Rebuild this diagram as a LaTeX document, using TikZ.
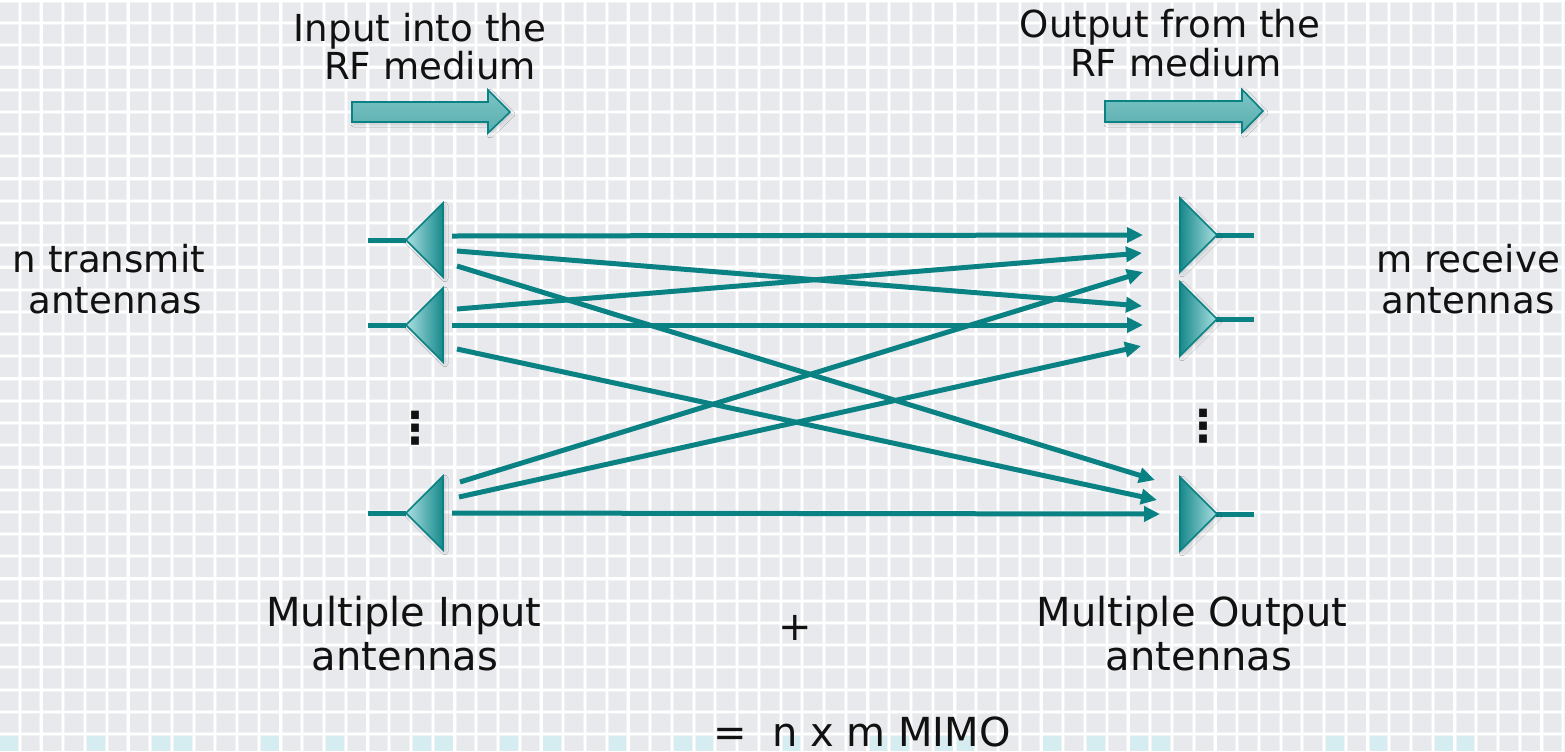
\documentclass[tikz,border=0pt]{standalone}
\usepackage{fontspec}
\setmainfont{DejaVu Sans}
\usetikzlibrary{arrows.meta,shadows.blur}

\definecolor{bggray}{HTML}{E8E9ED}
\definecolor{gridglow}{HTML}{F1F2F4}
\definecolor{tealline}{HTML}{0A8183}
\definecolor{tealdark}{HTML}{17898B}
\definecolor{teallight}{HTML}{ABE0E2}
\definecolor{arrowtop}{HTML}{7CC4C5}
\definecolor{arrowmid}{HTML}{A2D8D9}
\definecolor{arrowbot}{HTML}{5AAEAF}
\definecolor{cyancell}{HTML}{D5EDF1}
\definecolor{inkblack}{HTML}{111111}

\begin{document}
\begin{tikzpicture}[x=0.5pt,y=-0.5pt,
  gridglow/.style={draw=gridglow, line width=2pt},
  gridline/.style={draw=white, line width=1.1pt},
  link/.style={draw=tealline, line width=2.5pt, -{Triangle[length=8pt,width=7.5pt]}},
  stub/.style={draw=tealline, line width=2.5pt},
  softshadow/.style={blur shadow={shadow xshift=1pt, shadow yshift=-1pt,
      shadow blur radius=1.5pt, shadow opacity=15}},
  txantenna/.style={draw=tealline, line width=0.8pt, line join=miter,
      left color=teallight, right color=tealdark, softshadow},
  rxantenna/.style={draw=tealline, line width=0.8pt, line join=miter,
      left color=tealdark, right color=teallight, softshadow},
  blockarrow/.style={draw=tealline, line width=0.8pt, line join=miter,
      top color=arrowtop, middle color=arrowmid, bottom color=arrowbot, softshadow},
  lbl/.style={font=\fontsize{18.6}{22}\selectfont, text=inkblack, inner sep=0pt, anchor=base},
  biglbl/.style={lbl, font=\fontsize{20}{24}\selectfont},
  dotslbl/.style={lbl, anchor=center, font=\fontsize{22}{24}\selectfont\bfseries},
]
\useasboundingbox (0,0) rectangle (1565,751);

% ---- background: gray tiles with white joints, a few cyan tiles in the last row
\fill[bggray] (0,0) rectangle (1565,751);
\foreach \k in {0,4,7,8,12,15,19,20,23,25,28,31,32,36,40,41,43,44,48,50,52,53,61,63,66,67}
  \fill[cyancell] ({-2.04+\k*21.74},735) rectangle ({-2.04+(\k+1)*21.74},751);
\foreach \k in {0,...,71} \draw[gridglow] ({19.7+\k*21.74},0) -- ({19.7+\k*21.74},751);
\foreach \j in {-1,...,32} \draw[gridglow] (0,{23+\j*22.22}) -- (1565,{23+\j*22.22});
\foreach \k in {0,...,71} \draw[gridline] ({19.7+\k*21.74},0) -- ({19.7+\k*21.74},751);
\foreach \j in {-1,...,32} \draw[gridline] (0,{23+\j*22.22}) -- (1565,{23+\j*22.22});

% ---- block arrows marking the direction through the medium
\path[blockarrow] (352,102) -- (488,102) -- (488,90) -- (510,112) -- (488,133)
  -- (488,122) -- (352,122) -- cycle;
\path[blockarrow] (1105,101) -- (1242,101) -- (1242,89.5) -- (1263,111) -- (1242,132.5)
  -- (1242,122) -- (1105,122) -- cycle;

% ---- transmit antennas (left)
\foreach \y in {240,325,513} {
  \draw[stub] (368,\y) -- (406,\y);
  \path[txantenna] (443,\y-37) -- (406,\y) -- (443,\y+37) -- cycle;
}
% ---- receive antennas (right)
\foreach \y in {235,319,514} {
  \draw[stub] (1216,\y) -- (1254,\y);
  \path[rxantenna] (1180,\y-37) -- (1217,\y) -- (1180,\y+37) -- cycle;
}

% ---- connector end points
\coordinate (t1a) at (452,236);
\coordinate (t1b) at (457,251);
\coordinate (t1c) at (457,266);
\coordinate (t2a) at (457,309);
\coordinate (t2b) at (452,325);
\coordinate (t2c) at (457,349);
\coordinate (t3a) at (460,482);
\coordinate (t3b) at (459,497);
\coordinate (t3c) at (452,513);
\coordinate (r1a) at (1143,235);
\coordinate (r1b) at (1142,253);
\coordinate (r1c) at (1143,272);
\coordinate (r2a) at (1142,306);
\coordinate (r2b) at (1143,325);
\coordinate (r2c) at (1141,346);
\coordinate (r3a) at (1155,480);
\coordinate (r3b) at (1157,500);
\coordinate (r3c) at (1160,514);

% ---- every transmit antenna reaches every receive antenna
\draw[link] (t1a) -- (r1a);
\draw[link] (t1b) -- (r2a);
\draw[link] (t1c) -- (r3a);
\draw[link] (t2a) -- (r1b);
\draw[link] (t2b) -- (r2b);
\draw[link] (t2c) -- (r3b);
\draw[link] (t3a) -- (r1c);
\draw[link] (t3b) -- (r2c);
\draw[link] (t3c) -- (r3c);

% ---- vertical ellipses between antennas
\node[dotslbl] (dotsl) at (415,428) {⋮};
\node[dotslbl] (dotsr) at (1203,426) {⋮};

% ---- labels
\node[lbl] (inA) at (420,41) {Input into the};
\node[lbl] (inB) at (430,79) {RF medium};
\node[lbl] (outA) at (1170,37) {Output from the};
\node[lbl] (outB) at (1176,76) {RF medium};
\node[lbl] (ntxA) at (109,272) {n transmit};
\node[lbl] (ntxB) at (115,313) {antennas};
\node[lbl] (mrxA) at (1468,272) {m receive};
\node[lbl] (mrxB) at (1468,313) {antennas};
\node[biglbl] (miA) at (404,626) {Multiple Input};
\node[biglbl] (miB) at (405,670) {antennas};
\node[biglbl, anchor=center] (plus) at (795,628) {+};
\node[biglbl] (moA) at (1192,626) {Multiple Output};
\node[biglbl] (moB) at (1199,670) {antennas};
\node[biglbl] (total) at (862,746) {=\ \ n x m MIMO};
\end{tikzpicture}
\end{document}
